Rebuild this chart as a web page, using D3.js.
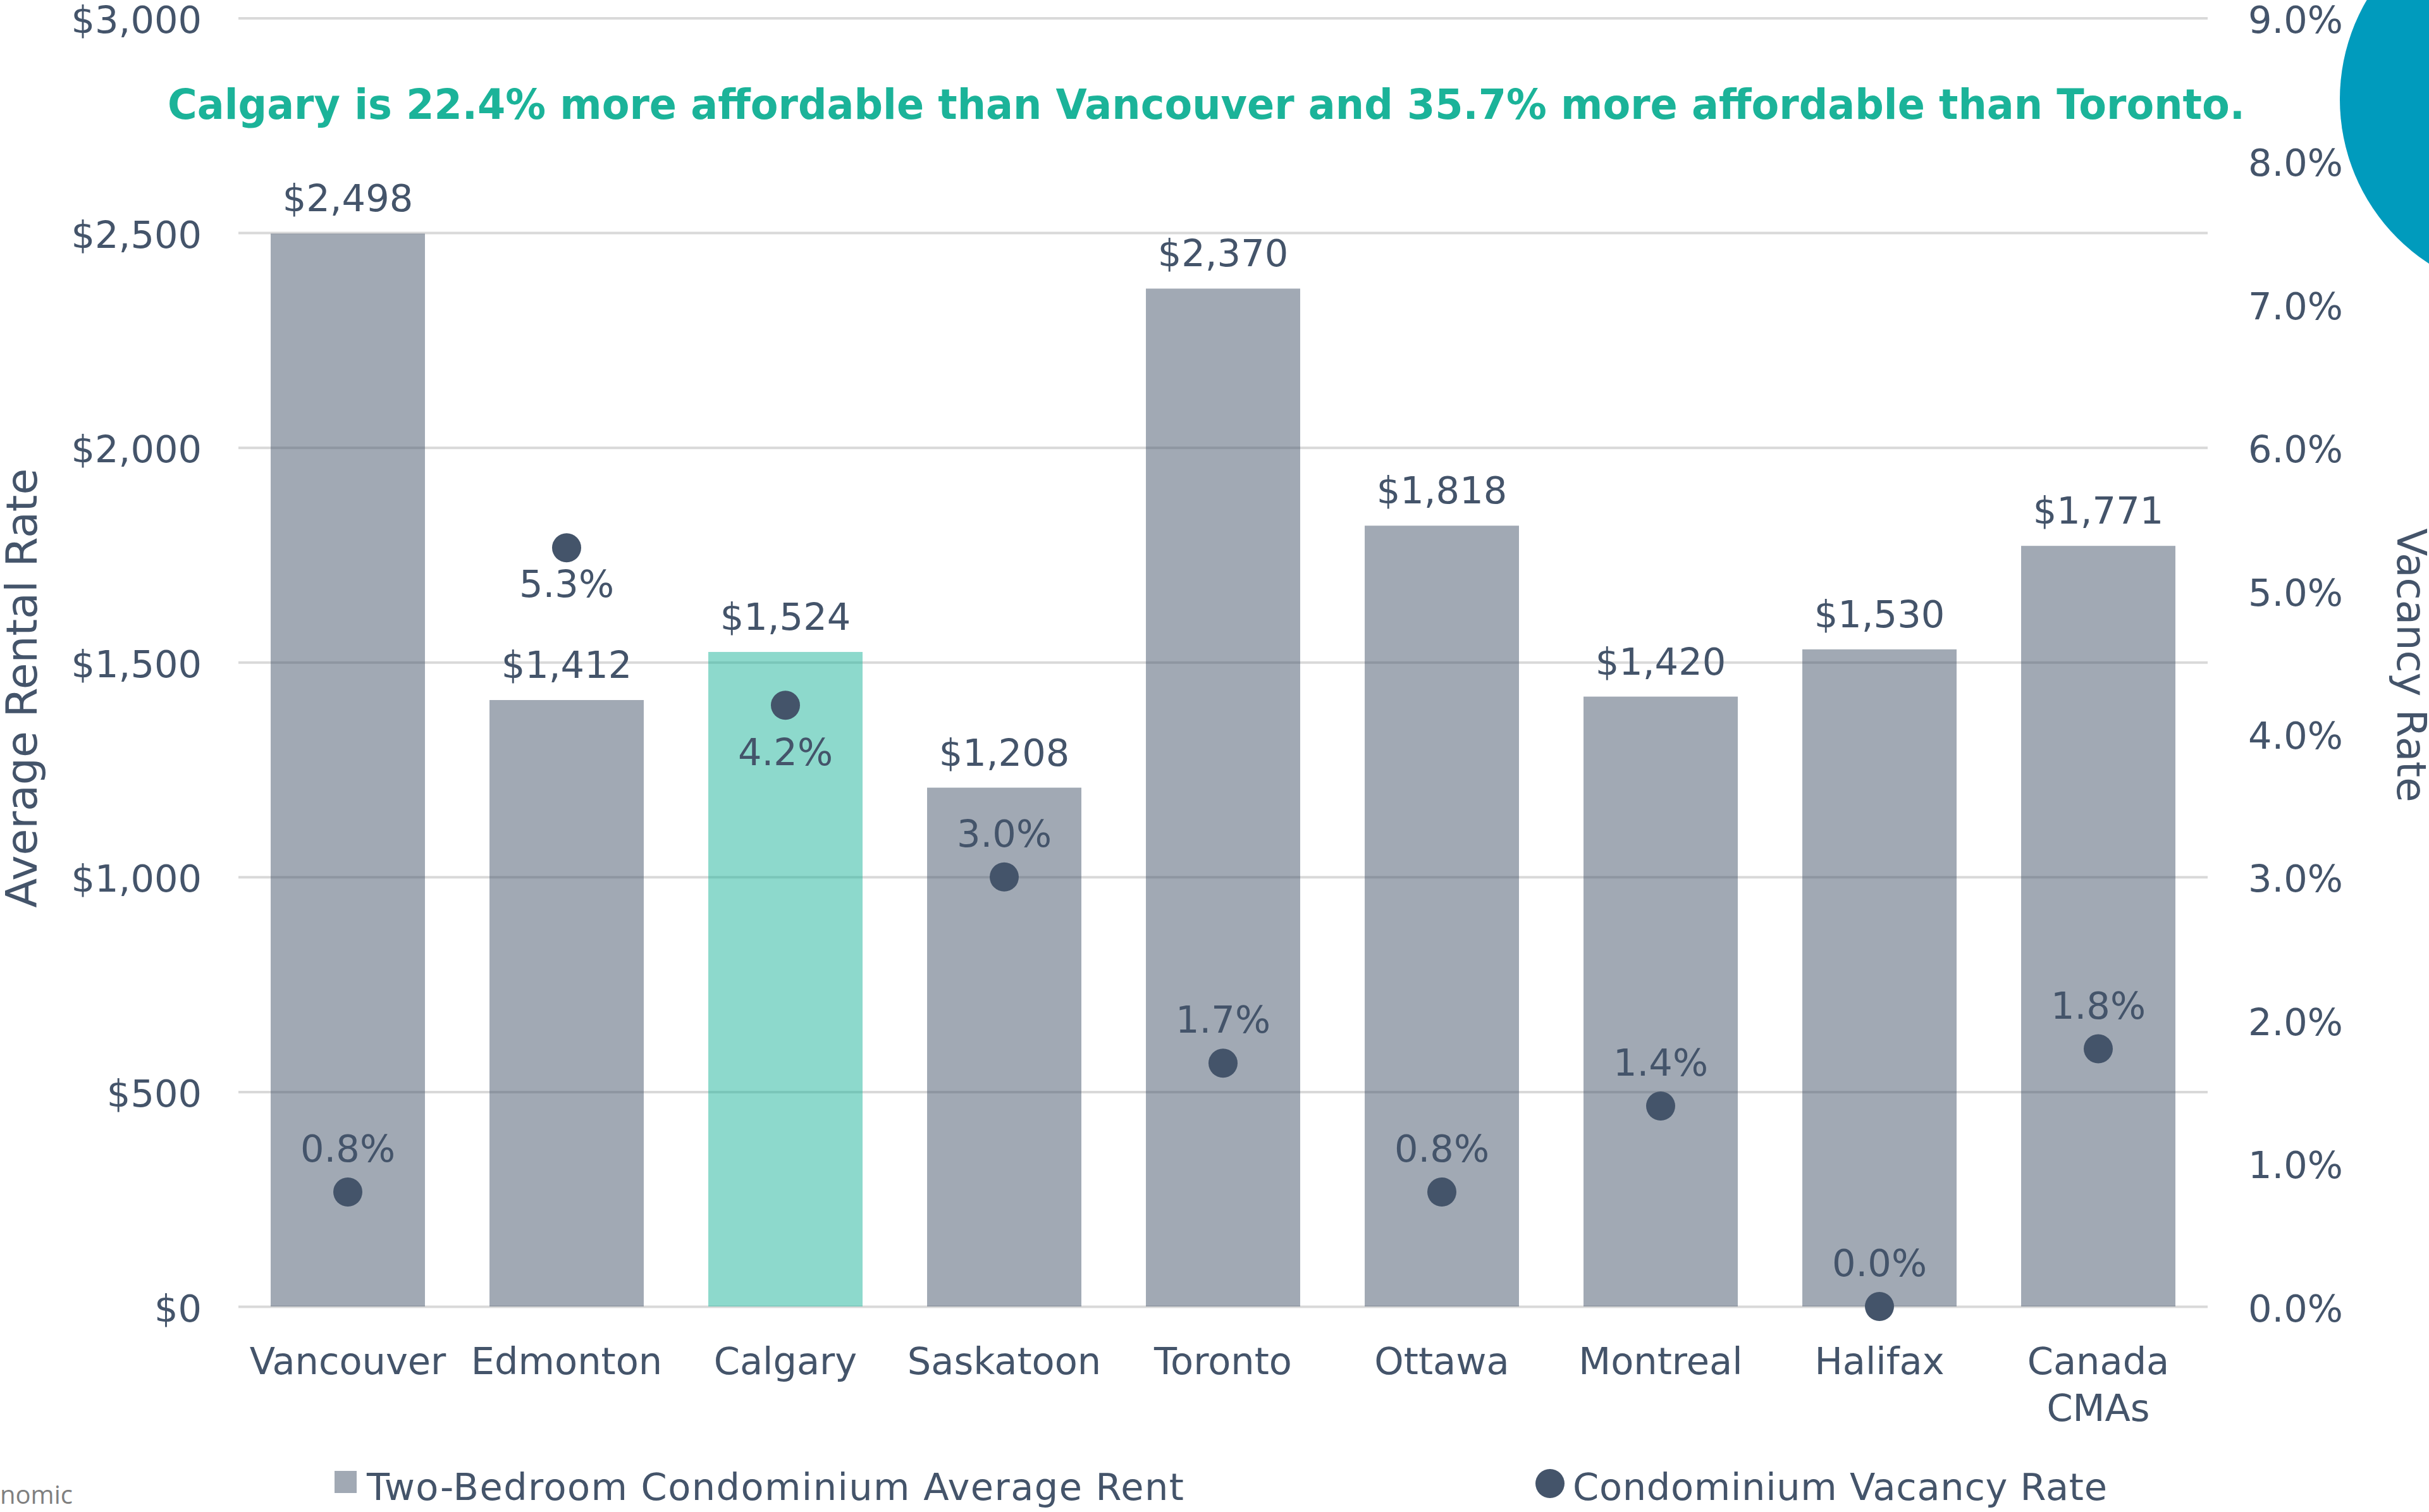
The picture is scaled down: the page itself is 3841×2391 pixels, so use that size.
<!DOCTYPE html>
<html>
<head>
<meta charset="utf-8">
<script src="https://cdn.jsdelivr.net/npm/d3@7"></script>
<style>
  html, body { margin: 0; padding: 0; background: #ffffff; }
  svg { display: block; }
</style>
</head>
<body>
<svg id="chart" width="3841" height="2391"></svg>
<script>
// ---------------- DATA ----------------
const categories = ["Vancouver", "Edmonton", "Calgary", "Saskatoon", "Toronto", "Ottawa", "Montreal", "Halifax", "Canada CMAs"];
const averageRent = [2498, 1412, 1524, 1208, 2370, 1818, 1420, 1530, 1771];
const vacancyRate = [0.008, 0.053, 0.042, 0.030, 0.017, 0.008, 0.014, 0.000, 0.018];
const rentTicks = [0, 500, 1000, 1500, 2000, 2500, 3000];
const rateTicks = [0, 0.01, 0.02, 0.03, 0.04, 0.05, 0.06, 0.07, 0.08, 0.09];
const highlightCategory = "Calgary";
const titleText = "Calgary is 22.4% more affordable than Vancouver and 35.7% more affordable than Toronto.";
const leftAxisTitle = "Average Rental Rate";
const rightAxisTitle = "Vacancy Rate";
const legendLabels = ["Two-Bedroom Condominium Average Rent", "Condominium Vacancy Rate"];
const footerText = "nomic";

// ---------------- LAYOUT / STYLE ----------------
const W = 3841, H = 2391;
const plot = { left: 377, right: 3491, top: 28.5, bottom: 2066 };
const dark = "#44546A";
const teal = "#1BB399";
const font = "Verdana, 'DejaVu Sans', sans-serif";
const fs = 59;
// vertical offset of each vacancy label baseline relative to its dot
const dotLabelDy = [-48, 78, 95, -48, -48, -48, -48, -48, -48];

const svg = d3.select("#chart");

const x = d3.scaleBand().domain(categories)
  .range([plot.left, plot.right])
  .paddingInner(0.295).paddingOuter(0.1475);
const y = d3.scaleLinear().domain([0, 3000]).range([plot.bottom, plot.top]);
const y2 = d3.scaleLinear().domain([0, 0.09]).range([plot.bottom, plot.top]);

// decorative circle top right
svg.append("circle").attr("cx", 4010).attr("cy", 157).attr("r", 310).attr("fill", "#009BBD");

// gridlines via axis
const grid = svg.append("g").attr("transform", `translate(${plot.left},0)`)
  .call(d3.axisRight(y).tickValues(rentTicks).tickSize(plot.right - plot.left).tickFormat(""));
grid.select(".domain").remove();
grid.selectAll(".tick line").attr("stroke", "#D9D9D9").attr("stroke-width", 4);

// left axis labels
const leftAxis = svg.append("g").attr("transform", `translate(${plot.left},0)`)
  .call(d3.axisLeft(y).tickValues(rentTicks).tickSize(0).tickPadding(58)
    .tickFormat(d => "$" + d3.format(",")(d)));
leftAxis.select(".domain").remove();
leftAxis.selectAll("text").attr("font-family", font).attr("font-size", fs).attr("fill", dark).attr("dy", "0.39em");

// right axis labels
const rightAxis = svg.append("g").attr("transform", `translate(${plot.right},0)`)
  .call(d3.axisRight(y2).tickValues(rateTicks).tickSize(0).tickPadding(64)
    .tickFormat(d3.format(".1%")));
rightAxis.select(".domain").remove();
rightAxis.selectAll("text").attr("font-family", font).attr("font-size", fs).attr("fill", dark).attr("dy", "0.39em");

// bars
svg.append("g").selectAll("rect").data(categories).join("rect")
  .attr("x", d => x(d))
  .attr("width", x.bandwidth())
  .attr("y", (d, i) => y(averageRent[i]))
  .attr("height", (d, i) => y(0) - y(averageRent[i]))
  .attr("fill", d => d === highlightCategory ? teal : dark)
  .attr("fill-opacity", 0.5);

// bar labels
svg.append("g").selectAll("text").data(categories).join("text")
  .attr("x", d => x(d) + x.bandwidth() / 2)
  .attr("y", (d, i) => y(averageRent[i]) - 35)
  .attr("text-anchor", "middle")
  .attr("font-family", font).attr("font-size", fs).attr("fill", dark)
  .text((d, i) => "$" + d3.format(",")(averageRent[i]));

// dots
svg.append("g").selectAll("circle").data(categories).join("circle")
  .attr("cx", d => x(d) + x.bandwidth() / 2)
  .attr("cy", (d, i) => y2(vacancyRate[i]))
  .attr("r", 23)
  .attr("fill", dark);

// dot labels
svg.append("g").selectAll("text").data(categories).join("text")
  .attr("x", d => x(d) + x.bandwidth() / 2)
  .attr("y", (d, i) => y2(vacancyRate[i]) + dotLabelDy[i])
  .attr("text-anchor", "middle")
  .attr("font-family", font).attr("font-size", fs).attr("fill", dark)
  .text((d, i) => d3.format(".1%")(vacancyRate[i]));

// category labels
const catG = svg.append("g").selectAll("text").data(categories).join("text")
  .attr("x", d => x(d) + x.bandwidth() / 2)
  .attr("y", 2173)
  .attr("text-anchor", "middle")
  .attr("font-family", font).attr("font-size", fs).attr("fill", dark);
catG.each(function(d) {
  const parts = d === "Canada CMAs" ? d.split(" ") : [d];
  const t = d3.select(this);
  parts.forEach((p, k) => {
    t.append("tspan").attr("x", x(d) + x.bandwidth() / 2).attr("dy", k === 0 ? 0 : 74).text(p);
  });
});

// title
svg.append("text")
  .attr("x", 265).attr("y", 188)
  .attr("font-family", "Verdana, 'DejaVu Sans', sans-serif")
  .attr("font-weight", "bold")
  .attr("font-size", 66)
  .attr("fill", teal)
  .attr("textLength", 3285)
  .attr("lengthAdjust", "spacingAndGlyphs")
  .text(titleText);

// axis titles
svg.append("text")
  .attr("transform", `translate(58,1088) rotate(-90)`)
  .attr("text-anchor", "middle")
  .attr("font-family", font).attr("font-size", 68).attr("fill", dark)
  .text(leftAxisTitle);
svg.append("text")
  .attr("transform", `translate(3791,1052) rotate(90)`)
  .attr("text-anchor", "middle")
  .attr("font-family", font).attr("font-size", 64).attr("fill", dark)
  .text(rightAxisTitle);

// legend
svg.append("rect").attr("x", 529).attr("y", 2326).attr("width", 35).attr("height", 35)
  .attr("fill", dark).attr("fill-opacity", 0.5);
svg.append("text").attr("x", 580).attr("y", 2372)
  .attr("font-family", font).attr("font-size", fs).attr("fill", dark)
  .attr("textLength", 1292).attr("lengthAdjust", "spacing")
  .text(legendLabels[0]);
svg.append("circle").attr("cx", 2451).attr("cy", 2346).attr("r", 23).attr("fill", dark);
svg.append("text").attr("x", 2487).attr("y", 2372)
  .attr("font-family", font).attr("font-size", fs).attr("fill", dark)
  .attr("textLength", 845).attr("lengthAdjust", "spacing")
  .text(legendLabels[1]);

// footer fragment
svg.append("text").attr("x", 0).attr("y", 2378)
  .attr("font-family", "'Open Sans', sans-serif").attr("font-size", 40).attr("fill", "#7F7F7F")
  .text(footerText);
</script>
</body>
</html>
